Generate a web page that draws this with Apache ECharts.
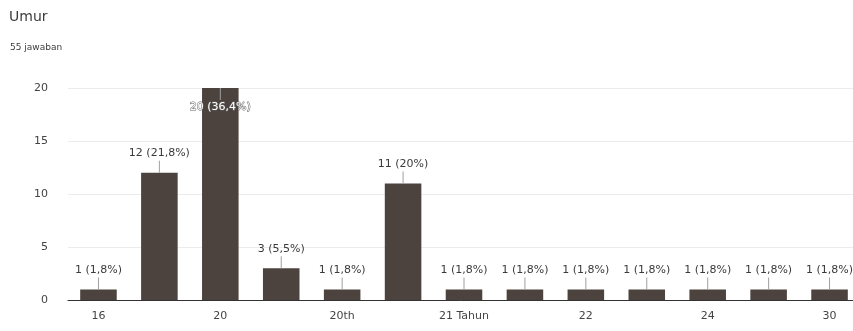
<!DOCTYPE html>
<html>
<head>
<meta charset="utf-8">
<script src="https://cdn.jsdelivr.net/npm/echarts@6/dist/echarts.min.js"></script>
<style>
  html, body { margin: 0; padding: 0; background: #fff; overflow: hidden; }
  #chart { width: 853px; height: 331px; }
</style>
</head>
<body>
<div id="chart"></div>
<script>
// data
const categories = ['16', '19', '20', '20 Tahun', '20th', '21', '21 Tahun', '21th', '22', '23', '24', '25', '30']
const counts = [1, 12, 20, 3, 1, 11, 1, 1, 1, 1, 1, 1, 1]
const yTicks = [0, 5, 10, 15, 20]
const total = 55

const FONT = 'DejaVu Sans'
const chart = echarts.init(document.getElementById('chart'))

function pct(v) {
  const p = Math.round(v / total * 1000) / 10
  return String(p).replace('.', ',') + '%'
}

const maxVal = Math.max(...counts)

const data = counts.map(v => {
  if (v === maxVal) {
    // top bar: label sits inside, under the leader line
    return {
      value: v,
      label: {
        position: 'insideTop',
        distance: 0,
        formatter: p => '{l|}\n{w|' + p.value + ' (' + pct(p.value) + ')}'
      }
    }
  }
  return v
})

const option = {
  animation: false,
  title: [
    { text: 'Umur', left: 4, top: 5, textStyle: { fontFamily: FONT, fontSize: 14, fontWeight: 'normal', color: '#3c3c3c' } },
    { text: '55 jawaban', left: 5, top: 38, textStyle: { fontFamily: FONT, fontSize: 9, fontWeight: 'normal', color: '#3c3c3c' } }
  ],
  // the plot runs a little past the right edge, like the screenshot
  grid: { left: 68, width: 792, top: 88, bottom: 31, outerBoundsMode: 'none', containLabel: false },
  xAxis: {
    type: 'category',
    data: categories,
    axisTick: { show: false },
    axisLine: { lineStyle: { color: '#333', width: 1 } },
    axisLabel: { interval: 1, color: '#444', fontFamily: FONT, fontSize: 11, margin: 11 }
  },
  yAxis: {
    type: 'value',
    min: yTicks[0],
    max: yTicks[yTicks.length - 1],
    interval: 5,
    axisLine: { show: false },
    axisTick: { show: false },
    splitLine: { lineStyle: { color: '#ececec' } },
    axisLabel: { color: '#444', fontFamily: FONT, fontSize: 11, margin: 20 }
  },
  series: [{
    type: 'bar',
    data: data,
    barCategoryGap: '40%',
    itemStyle: { color: '#4c433f' },
    label: {
      show: true,
      position: 'top',
      distance: 0,
      formatter: p => '{a|' + p.value + ' (' + pct(p.value) + ')}\n{l|}',
      rich: {
        a: { fontFamily: FONT, fontSize: 11, color: '#3a3a3a', lineHeight: 15 },
        w: { fontFamily: FONT, fontSize: 11, color: '#fff', lineHeight: 15, textBorderColor: '#666', textBorderWidth: 1 },
        l: { width: 1, height: 12, backgroundColor: '#a0a0a0' }
      }
    }
  }]
}

chart.setOption(option)
</script>
</body>
</html>
